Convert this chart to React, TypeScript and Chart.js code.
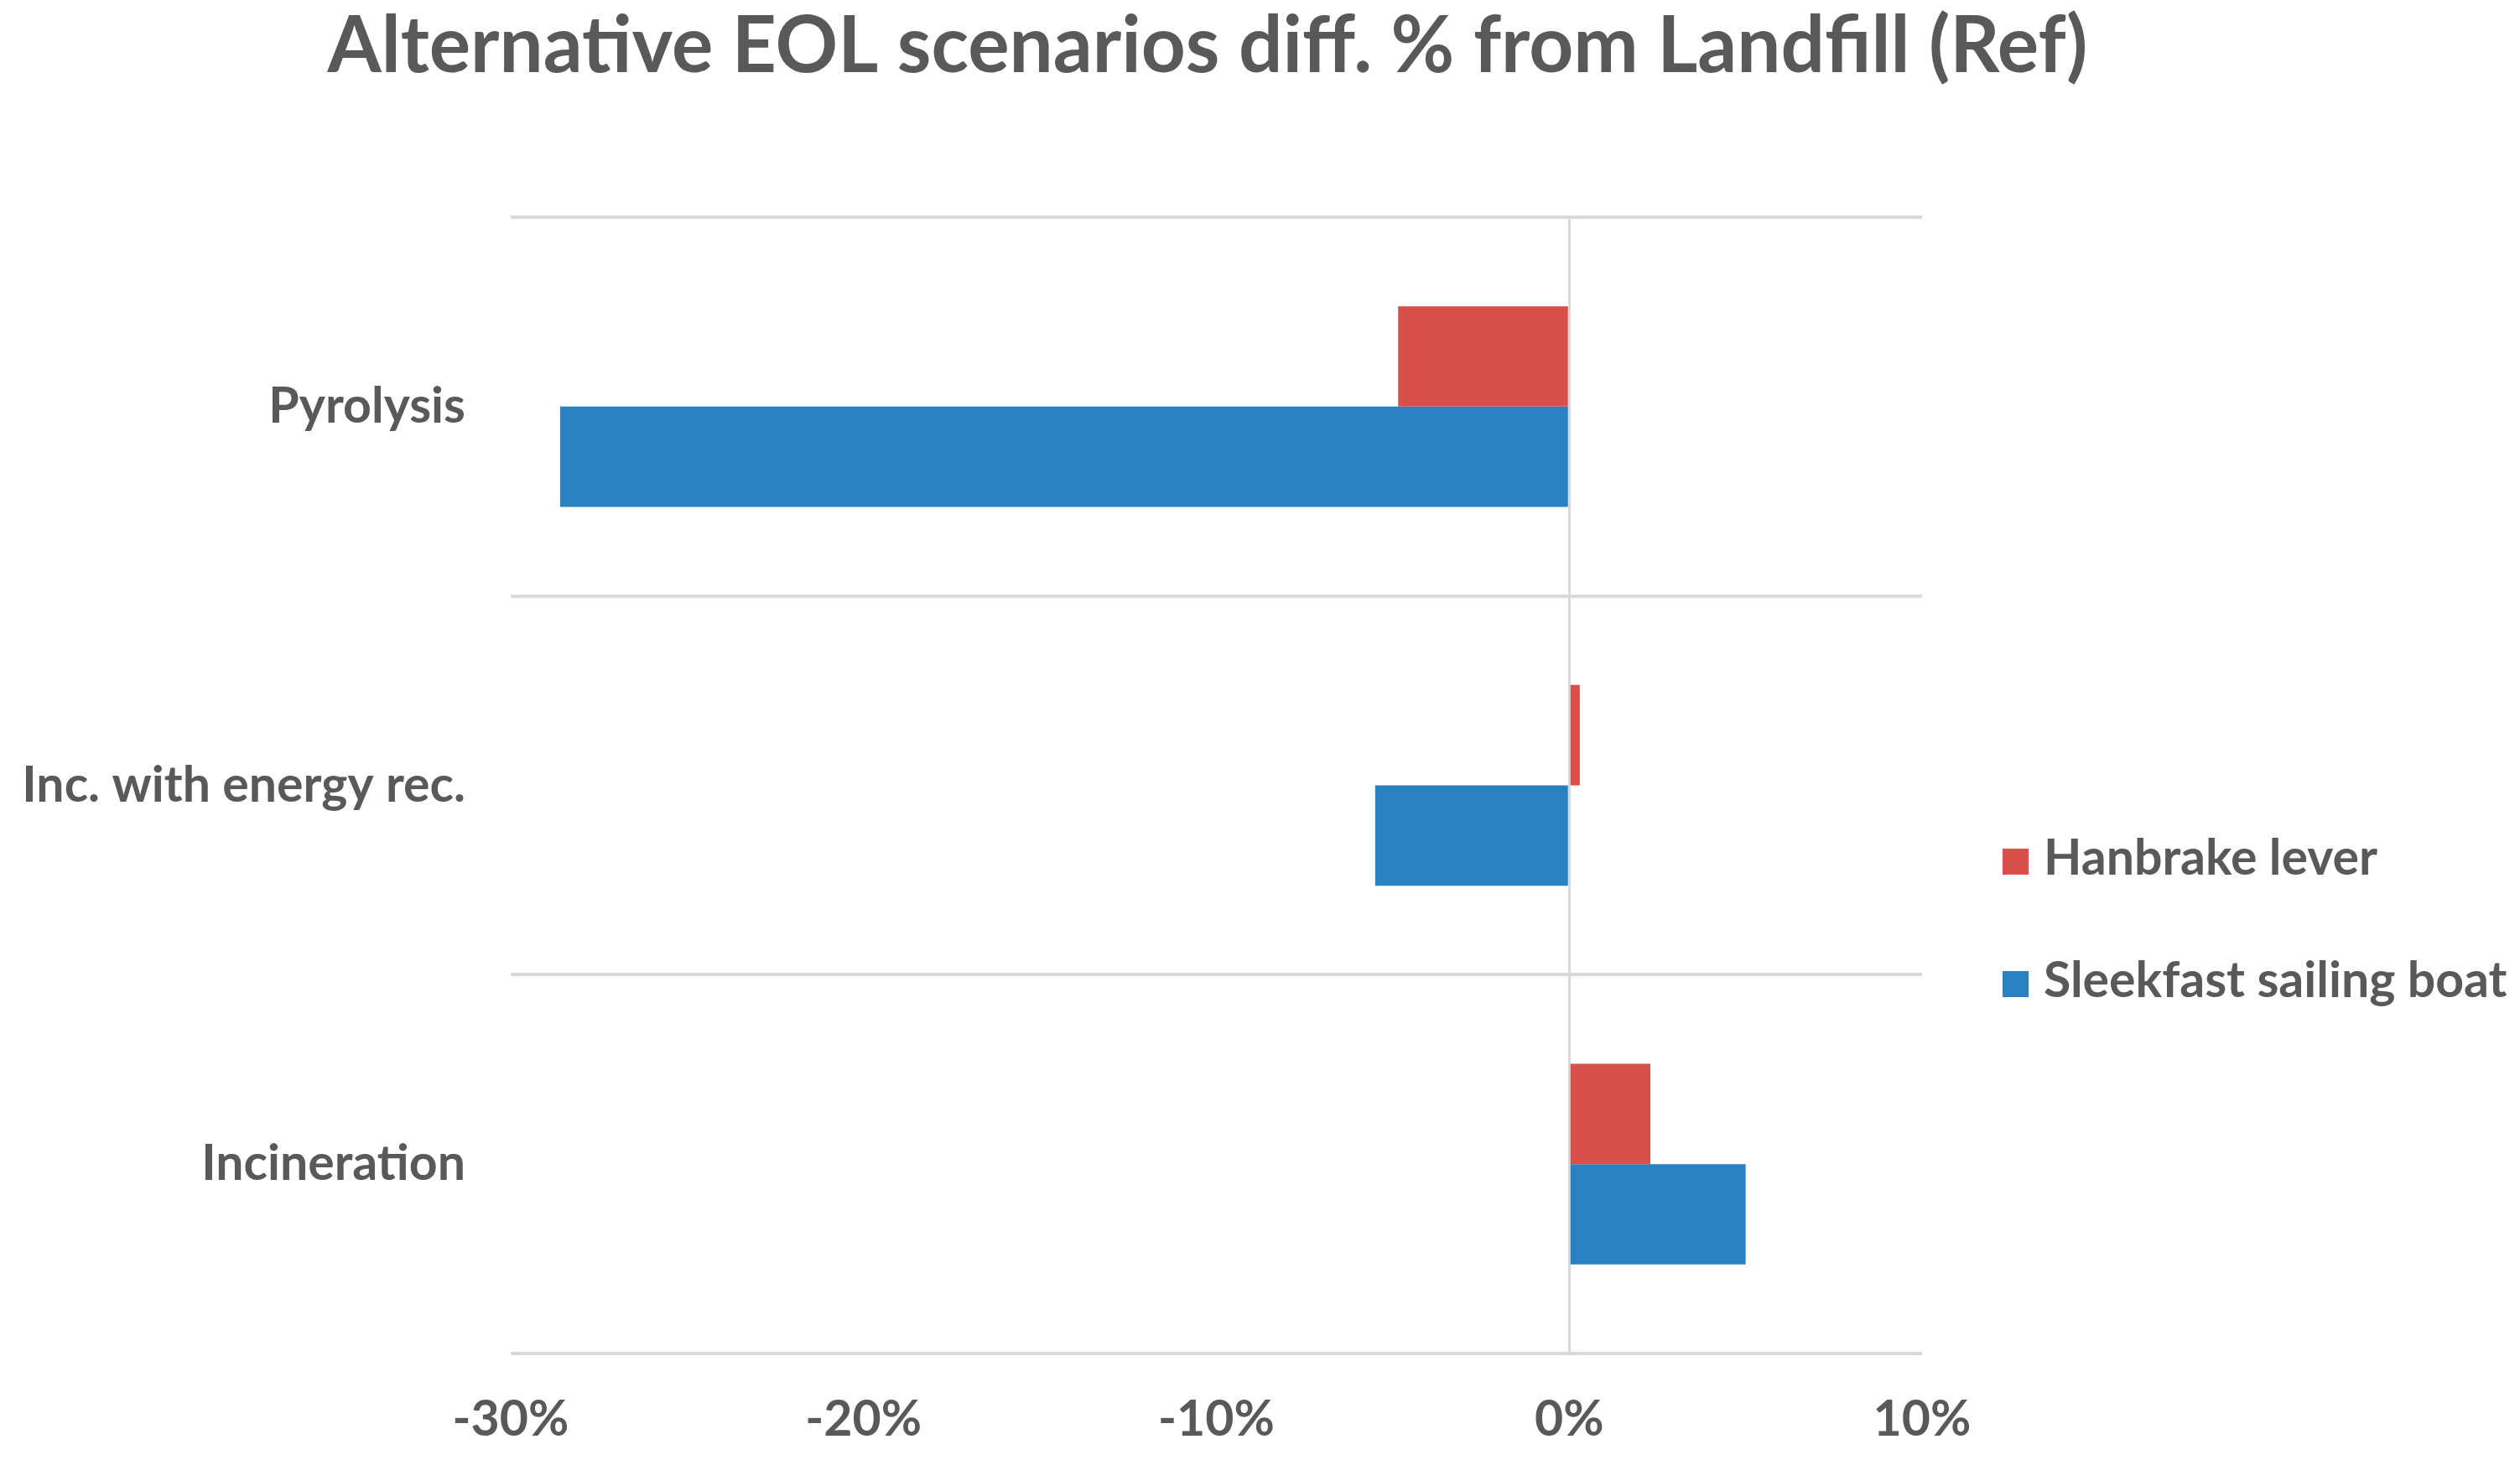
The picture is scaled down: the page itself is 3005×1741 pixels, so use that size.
import React, { useEffect, useRef } from 'react';
import { Chart, registerables } from 'chart.js';

Chart.register(...registerables);

const categories = ['Pyrolysis', 'Inc. with energy rec.', 'Incineration'];
const seriesNames = ['Hanbrake lever', 'Sleekfast sailing boat'];
const hanbrakeValues = [-4.85, 0.3, 2.3];
const sleekfastValues = [-28.6, -5.5, 5.0];
const xMin = -30;
const xMax = 10;
const xStep = 10;
const titleText = 'Alternative EOL scenarios diff. % from Landfill (Ref)';

const W = 3005;
const H = 1741;
const FONT = 'Lato, "Open Sans", sans-serif';
const TEXT = '#595959';
const RED = '#D9504B';
const BLUE = '#2A81C2';
const GRID = '#d9d9d9';
const LABEL_SIZE = 59;
const TITLE_SIZE = 93;

const titleAndLegend = {
  id: 'titleAndLegend',
  afterDraw(chart: any) {
    const ctx = chart.ctx;
    ctx.save();
    // title
    ctx.font = `bold ${TITLE_SIZE}px ${FONT}`;
    ctx.textBaseline = 'alphabetic';
    ctx.textAlign = 'center';
    ctx.fillStyle = TEXT;
    ctx.fillText(titleText, 1440, 86, 2099);
    // legend
    ctx.font = `bold ${LABEL_SIZE}px ${FONT}`;
    ctx.textAlign = 'left';
    chart.data.datasets.forEach((ds: any, i: number) => {
      const baseline = 1043 + i * 146;
      ctx.fillStyle = ds.backgroundColor;
      ctx.fillRect(2388, baseline - 31, 31, 31);
      ctx.fillStyle = TEXT;
      ctx.fillText(ds.label, 2437, baseline);
    });
    ctx.restore();
  },
};

export default function App() {
  const ref = useRef<HTMLCanvasElement | null>(null);

  useEffect(() => {
    document.body.style.margin = '0';
    const canvas = ref.current;
    if (!canvas) return;
    const chart = new Chart(canvas, {
      type: 'bar',
      data: {
        labels: categories,
        datasets: [
          {
            label: seriesNames[0],
            data: hanbrakeValues,
            backgroundColor: RED,
            borderWidth: 0,
            categoryPercentage: 0.53,
            barPercentage: 1.0,
          },
          {
            label: seriesNames[1],
            data: sleekfastValues,
            backgroundColor: BLUE,
            borderWidth: 0,
            categoryPercentage: 0.53,
            barPercentage: 1.0,
          },
        ],
      },
      options: {
        indexAxis: 'y',
        responsive: false,
        animation: false,
        devicePixelRatio: 1,
        layout: { padding: { left: 0, right: W - 2292, top: 259, bottom: 0 } },
        plugins: {
          legend: { display: false },
          tooltip: { enabled: false },
          title: { display: false },
        },
        scales: {
          x: {
            type: 'linear',
            min: xMin,
            max: xMax,
            ticks: {
              stepSize: xStep,
              padding: 44,
              color: TEXT,
              font: { family: FONT, size: LABEL_SIZE, weight: 'bold' },
              callback: (v: any) => `${v}%`,
            },
            grid: {
              drawTicks: false,
              lineWidth: 3,
              color: (c: any) => (c.tick && c.tick.value === 0 ? GRID : 'rgba(0,0,0,0)'),
            },
            border: { display: false },
            afterFit: (s: any) => {
              s.height = H - 1614;
            },
          },
          y: {
            type: 'category',
            ticks: {
              padding: 54,
              color: TEXT,
              font: { family: FONT, size: LABEL_SIZE, weight: 'bold' },
            },
            grid: {
              offset: true,
              drawTicks: false,
              lineWidth: 4,
              color: GRID,
            },
            border: { display: false },
            afterFit: (s: any) => {
              s.width = 609;
            },
          },
        },
      },
      plugins: [titleAndLegend],
    });
    return () => chart.destroy();
  }, []);

  return (
    <div style={{ width: W, height: H, position: 'relative', background: '#ffffff' }}>
      <canvas ref={ref} width={W} height={H} style={{ width: W, height: H, display: 'block' }} />
    </div>
  );
}
